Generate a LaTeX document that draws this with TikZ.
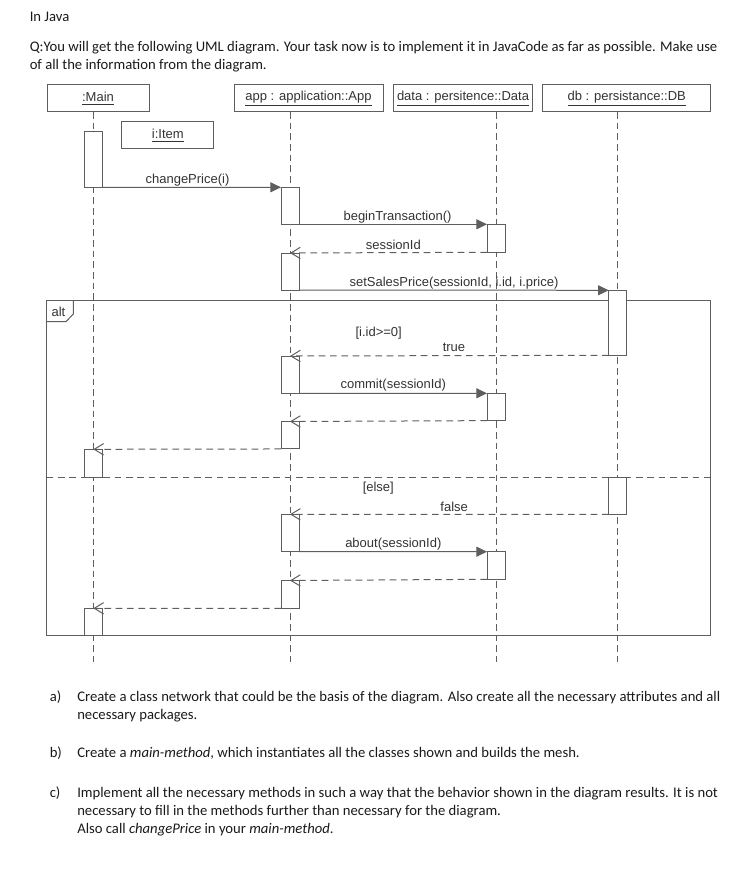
\documentclass[tikz,border=0pt]{standalone}
\usepackage{fontspec}
\setmainfont{Carlito}
\newfontfamily\arialf{Liberation Sans}
\usetikzlibrary{arrows.meta}
\definecolor{lc}{HTML}{5E5E5E}
\definecolor{tc}{HTML}{333333}
\definecolor{bt}{HTML}{1A1A1A}
\begin{document}
\begin{tikzpicture}[x=0.75pt,y=-0.75pt,
  ln/.style={draw=lc, line width=0.75pt},
  headbox/.style={ln, fill=white, inner sep=0pt, outer sep=0pt, minimum height=20.25pt, text=tc, font=\arialf\fontsize{9.75}{11}\selectfont},
  actbar/.style={ln, fill=white, inner sep=0pt, outer sep=0pt, minimum width=13.5pt, anchor=north},
  life/.style={ln, dash pattern=on 5pt off 3pt},
  msg/.style={ln, -{Triangle[length=8pt,width=7.5pt]}},
  ret/.style={ln, dash pattern=on 5pt off 3.5pt, -{Straight Barb[length=7pt,width=8.5pt,line width=0.75pt]}},
  lbl/.style={text=tc, inner sep=0pt, font=\arialf\fontsize{9.75}{11}\selectfont},
  para/.style={text=bt, inner sep=0pt, anchor=base west, font=\fontsize{11}{13.5}\selectfont}]
\useasboundingbox (0,0) rectangle (753,877);

% heading text
\node[para] (t0) at (29.5,21.5) {In Java};
\node[para] (t1) at (29.5,51.5) {Q:You will get the following UML diagram. Your task now is to implement it in JavaCode as far as possible. Make use};
\node[para] (t2) at (29.5,70) {of all the information from the diagram.};

% lifeline heads
\node[headbox, minimum width=76.5pt] (Main) at (98,98.5) {\underline{:Main}};
\node[headbox, minimum width=111.75pt] (App) at (308.5,98.5) {\underline{app : application::App}};
\node[headbox, minimum width=104.5pt] (Data) at (463,98.5) {\underline{data : persitence::Data}};
\node[headbox, minimum width=126pt] (DB) at (626.7,98.5) {\underline{db : persistance::DB}};

% lifeline ends
\coordinate (mEnd) at (93.3,662);
\coordinate (aEnd) at (290,662);
\coordinate (dEnd) at (496,662);
\coordinate (bEnd) at (617.7,662);
\draw[life] (Main.south -| mEnd) -- (mEnd);
\draw[life] (App.south -| aEnd) -- (aEnd);
\draw[life] (Data.south -| dEnd) -- (dEnd);
\draw[life] (DB.south -| bEnd) -- (bEnd);

\node[headbox, minimum width=69.2pt] (Item) at (167.8,135.5) {\underline{i:Item}};

% alt frame
\node[ln, inner sep=0pt, outer sep=0pt, minimum width=498pt, minimum height=251.8pt, anchor=north west] (alt) at (46.7,300) {};
\draw[ln] (73.3,300) -- (73.3,314) -- (66,321.7) -- (46.7,321.7);
\node[lbl] (altl) at (58.5,312.3) {alt};
\coordinate (sepL) at (46.7,477.7);
\draw[ln, dash pattern=on 5pt off 3.5pt] (sepL) -- (sepL -| alt.east);

% activation bars
\node[actbar, minimum height=41.7pt] (mA1) at (93.3,131.7) {};
\node[actbar, minimum height=27.75pt] (aA1) at (290,187.3) {};
\node[actbar, minimum height=21pt] (dA1) at (496,224.3) {};
\node[actbar, minimum height=27.75pt] (aA2) at (290,253) {};
\node[actbar, minimum height=48.75pt] (bA1) at (617.7,290.3) {};
\node[actbar, minimum height=28pt] (aA3) at (290,356) {};
\node[actbar, minimum height=20.5pt] (dA2) at (496,393.3) {};
\node[actbar, minimum height=20.6pt] (aA4) at (290,421.5) {};
\node[actbar, minimum height=21pt] (mA2) at (93.3,449.3) {};
\node[actbar, minimum height=27.5pt] (bA2) at (617.7,477.7) {};
\node[actbar, minimum height=28pt] (aA5) at (290,514.3) {};
\node[actbar, minimum height=20.7pt] (dA3) at (496,551.7) {};
\node[actbar, minimum height=20.85pt] (aA6) at (290,580.5) {};
\node[actbar, minimum height=20.5pt] (mA3) at (93.3,608.3) {};

% messages
\draw[msg] (mA1.south east) -- (aA1.north west);
\draw[msg] (aA1.south east) -- (dA1.north west);
\draw[ret] (dA1.south west) -- (aA2.north);
\draw[msg] (aA2.south east) -- (bA1.north west);
\draw[ret] (bA1.south west) -- (aA3.north);
\draw[msg] (aA3.south east) -- (dA2.north west);
\draw[ret] (dA2.south west) -- (aA4.north);
\draw[ret] (aA4.south west) -- (mA2.north);
\draw[ret] (bA2.south west) -- (aA5.north);
\draw[msg] (aA5.south east) -- (dA3.north west);
\draw[ret] (dA3.south west) -- (aA6.north);
\draw[ret] (aA6.south west) -- (mA3.north);

% labels
\node[lbl] (l1) at (187.5,180) {changePrice(i)};
\node[lbl] (l2) at (397.5,217.3) {beginTransaction()};
\node[lbl] (l3) at (393.3,245.3) {sessionId};
\node[lbl] (l4) at (454,283) {setSalesPrice(sessionId, i.id, i.price)};
\node[lbl] (l5) at (378.7,333) {[i.id>=0]};
\node[lbl] (l6) at (454,347.5) {true};
\node[lbl] (l7) at (393.3,384.7) {commit(sessionId)};
\node[lbl] (l8) at (378.3,488.3) {[else]};
\node[lbl] (l9) at (454.2,506.5) {false};
\node[lbl] (l10) at (393.3,544) {about(sessionId)};

% questions
\node[para] (qa) at (49.5,701) {a)};
\node[para] (qa1) at (77,701) {Create a class network that could be the basis of the diagram. Also create all the necessary attributes and all};
\node[para] (qa2) at (77,719) {necessary packages.};
\node[para] (qb) at (49.5,757) {b)};
\node[para] (qb1) at (77,757) {Create a \textit{main-method}, which instantiates all the classes shown and builds the mesh.};
\node[para] (qc) at (49.5,797) {c)};
\node[para] (qc1) at (77,797) {Implement all the necessary methods in such a way that the behavior shown in the diagram results. It is not};
\node[para] (qc2) at (77,815) {necessary to fill in the methods further than necessary for the diagram.};
\node[para] (qc3) at (77,833) {Also call \textit{changePrice} in your \textit{main-method}.};
\end{tikzpicture}
\end{document}
